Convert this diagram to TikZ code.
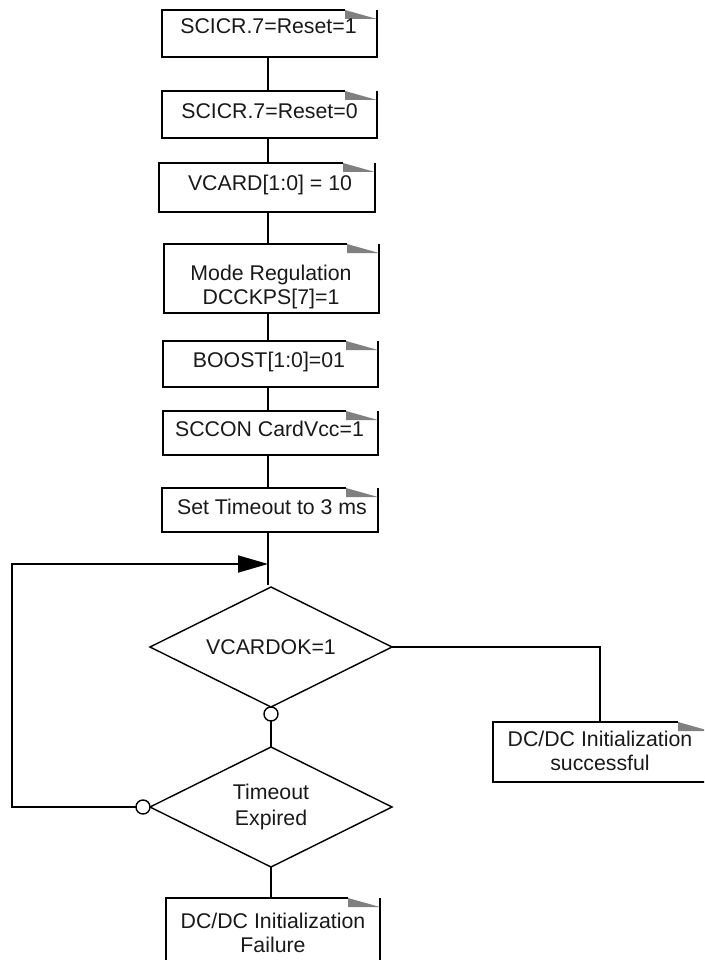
\documentclass[tikz,border=0pt]{standalone}
\usepackage{fontspec}
\setmainfont{Liberation Sans}
\usetikzlibrary{shapes.geometric,arrows.meta,calc}
\definecolor{foldgray}{RGB}{128,128,128}
\definecolor{inkc}{RGB}{25,25,25}
\tikzset{
  boxshape/.style={rectangle, draw=none, inner sep=0pt, outer sep=0pt},
  txt/.style={font=\fontsize{21.3}{24}\selectfont, inner sep=0pt, align=center, text=inkc},
  boxline/.style={line width=2pt, line join=miter},
  conn/.style={line width=2pt},
  dia/.style={diamond, draw, line width=1.4pt, minimum width=242pt, minimum height=120pt,
    inner sep=0pt, outer sep=0pt, aspect=2, align=center, text=inkc},
  circ/.style={circle, draw, line width=1.4pt, fill=white, minimum size=14pt, inner sep=0pt, outer sep=0pt},
}
\newcommand\foldbox[1]{%
  \draw[boxline] ([xshift=-32pt]#1.north east) -- (#1.north west) -- (#1.south west)
     -- (#1.south east) -- (#1.north east);
  \fill[foldgray] ([xshift=-32pt]#1.north east) -- ([xshift=-32pt,yshift=-9pt]#1.north east)
     -- ([yshift=-9pt]#1.north east) -- cycle;
}
\begin{document}
\begin{tikzpicture}[x=1pt,y=-1pt]
\useasboundingbox (0,0) rectangle (704,960);
\clip (0,0) rectangle (704,960);
\coordinate (spine) at (268,0);

% boxes
\node[boxshape, minimum width=215pt, minimum height=47pt] (b1) at (269.5,33.5) {};
\node[boxshape, minimum width=215pt, minimum height=47pt] (b2) at (269.5,114.5) {};
\node[boxshape, minimum width=216pt, minimum height=49pt] (b3) at (267,187.5) {};
\node[boxshape, minimum width=215pt, minimum height=69pt] (b4) at (271.5,278.5) {};
\node[boxshape, minimum width=215pt, minimum height=46pt] (b5) at (270.5,364) {};
\node[boxshape, minimum width=215pt, minimum height=44pt] (b6) at (270.5,433) {};
\node[boxshape, minimum width=216pt, minimum height=44pt] (b7) at (270,510) {};
\node[boxshape, minimum width=214pt, minimum height=77pt] (b8) at (273,936.5) {};
\node[boxshape, minimum width=217pt, minimum height=60pt] (b9) at (601.5,752) {};
\foreach \b in {b1,b2,b3,b4,b5,b6,b7,b8,b9} {\foldbox{\b}}

% box texts
\node[txt, anchor=base] (t1) at (268.5,33.5) {SCICR.7=Reset=1};
\node[txt, anchor=base] (t2) at (269.5,118.5) {SCICR.7=Reset=0};
\node[txt, anchor=base] (t3) at (270,190) {VCARD[1:0] = 10};
\node[txt] (t4) at (271,286.5) {Mode Regulation\\DCCKPS[7]=1};
\node[txt, anchor=base] (t5) at (269,367) {BOOST[1:0]=01};
\node[txt, anchor=base] (t6) at (269.5,436.5) {SCCON CardVcc=1};
\node[txt, anchor=base] (t7) at (272,514) {Set Timeout to 3 ms};
\node[txt] (t8) at (273,933) {DC/DC Initialization\\Failure};
\node[txt] (t9) at (600,750.6) {DC/DC Initialization\\successful};

% decisions
\node[dia, font=\fontsize{21.3}{24}\selectfont] (d1) at (271,647) {VCARDOK=1};
\node[dia, font=\fontsize{21.3}{26}\selectfont] (d2) at (271,807) {Timeout\\Expired};

% connectors
\draw[conn] (b1.south -| spine) -- (b2.north -| spine);
\draw[conn] (b2.south -| spine) -- (b3.north -| spine);
\draw[conn] (b3.south -| spine) -- (b4.north -| spine);
\draw[conn] (b4.south -| spine) -- (b5.north -| spine);
\draw[conn] (b5.south -| spine) -- (b6.north -| spine);
\draw[conn] (b6.south -| spine) -- (b7.north -| spine);
\draw[conn] (b7.south -| spine) -- ([yshift=2pt]spine |- d1.north);
\draw[conn] (d1.east) -| ([xshift=-1.5pt]b9.north);
\draw[conn] (d2.south) -- (d2.south |- b8.north);

\node[circ, anchor=north] (c1) at (d1.south) {};
\node[circ, anchor=east] (c2) at (d2.west) {};
\draw[conn] (c1.south) -- (d2.north);

\coordinate (loopcorner) at (12,564);
\coordinate (merge) at (268,564);
\draw[conn, line join=miter, -{Triangle[length=30pt,width=17pt]}] (c2.west) -| (loopcorner) -- (merge);
\end{tikzpicture}
\end{document}
